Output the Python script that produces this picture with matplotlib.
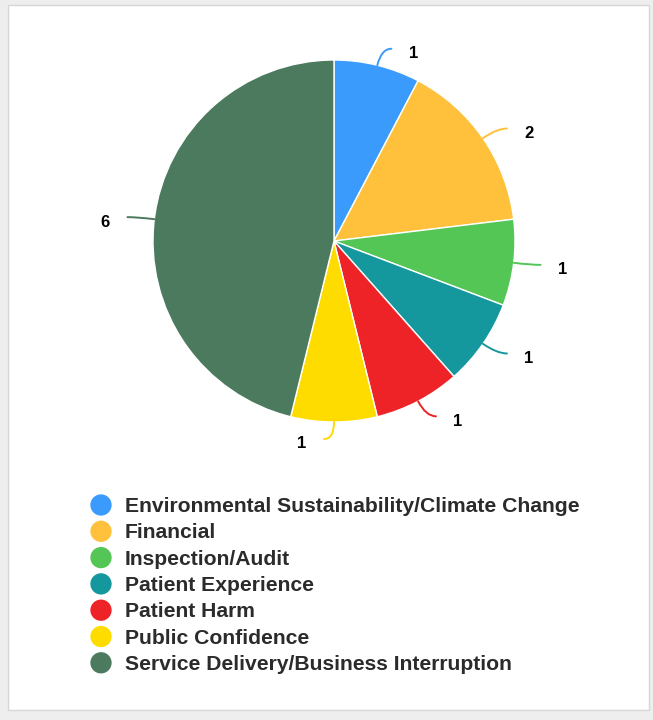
"""Risk category pie chart with soft connectors and a bullet legend."""

import numpy as np
import matplotlib
matplotlib.use("Agg")
import matplotlib.pyplot as plt
from matplotlib.patches import Rectangle, PathPatch
from matplotlib.path import Path

# ---------------------------------------------------------------------------
# Data
# ---------------------------------------------------------------------------

categories = [
    "Environmental Sustainability/Climate Change",
    "Financial",
    "Inspection/Audit",
    "Patient Experience",
    "Patient Harm",
    "Public Confidence",
    "Service Delivery/Business Interruption",
]
counts = [1, 2, 1, 1, 1, 1, 6]
colors = ["#3a9bfd", "#ffc13c", "#53c655", "#14979d", "#ee2327", "#ffdc00", "#4b7a5e"]

# ---------------------------------------------------------------------------
# Layout (pixels, measured from the top-left corner)
# ---------------------------------------------------------------------------

W, H = 653, 720
CX, CY, R = 334, 241, 181
R_LABEL = 198          # where the connector bends
CONN_RUN = 10          # horizontal run of the connector
LABEL_GAP = 22         # connector end -> label centre
LEGEND_X, LEGEND_Y0, LEGEND_DY = 101, 506.5, 26.3

plt.rcParams["font.family"] = ["Liberation Sans", "DejaVu Sans"]

fig = plt.figure(figsize=(W / 100, H / 100), dpi=100)
fig.patch.set_facecolor("#eeeeee")
ax = fig.add_axes([0, 0, 1, 1])


def up(y):
    """Top-based pixel y -> axes y."""
    return H - y


# white card
ax.add_patch(Rectangle((7.5, up(709.5)), 641, 705, facecolor="white",
                       edgecolor="#d6d6d6", linewidth=1, zorder=0))

wedges, _ = ax.pie(counts, colors=colors, startangle=90, counterclock=False,
                   center=(CX, up(CY)), radius=R,
                   wedgeprops=dict(edgecolor="white", linewidth=1),
                   frame=True)
ax.set_xlim(0, W)
ax.set_ylim(0, H)
ax.set_aspect("equal")
ax.axis("off")

for w, n, c in zip(wedges, counts, colors):
    mid = np.deg2rad((w.theta1 + w.theta2) / 2)
    side = 1 if np.cos(mid) > 0.01 else -1
    p0 = (CX + R * np.cos(mid), up(CY) + R * np.sin(mid))
    p1 = (CX + R_LABEL * np.cos(mid), up(CY) + R_LABEL * np.sin(mid))
    p2 = (p1[0] + side * CONN_RUN, p1[1])
    path = Path([p0, p1, p2], [Path.MOVETO, Path.CURVE3, Path.CURVE3])
    ax.add_patch(PathPatch(path, facecolor="none", edgecolor=c,
                           linewidth=1.4, capstyle="round", zorder=3))
    ax.text(p2[0] + side * LABEL_GAP, p2[1] - 5, str(n), fontsize=12,
            fontweight="bold", color="black", ha="center", va="center")

# legend
for i, (name, c) in enumerate(zip(categories, colors)):
    y = up(LEGEND_Y0 + i * LEGEND_DY)
    ax.scatter([LEGEND_X], [y + 1.5], s=235, color=c, edgecolors="none", zorder=3)
    ax.text(LEGEND_X + 24, y, name, fontsize=15.2, fontweight="bold",
            color="#2b2b2b", ha="left", va="center")

fig.savefig("out.png", dpi=100, facecolor=fig.get_facecolor())
